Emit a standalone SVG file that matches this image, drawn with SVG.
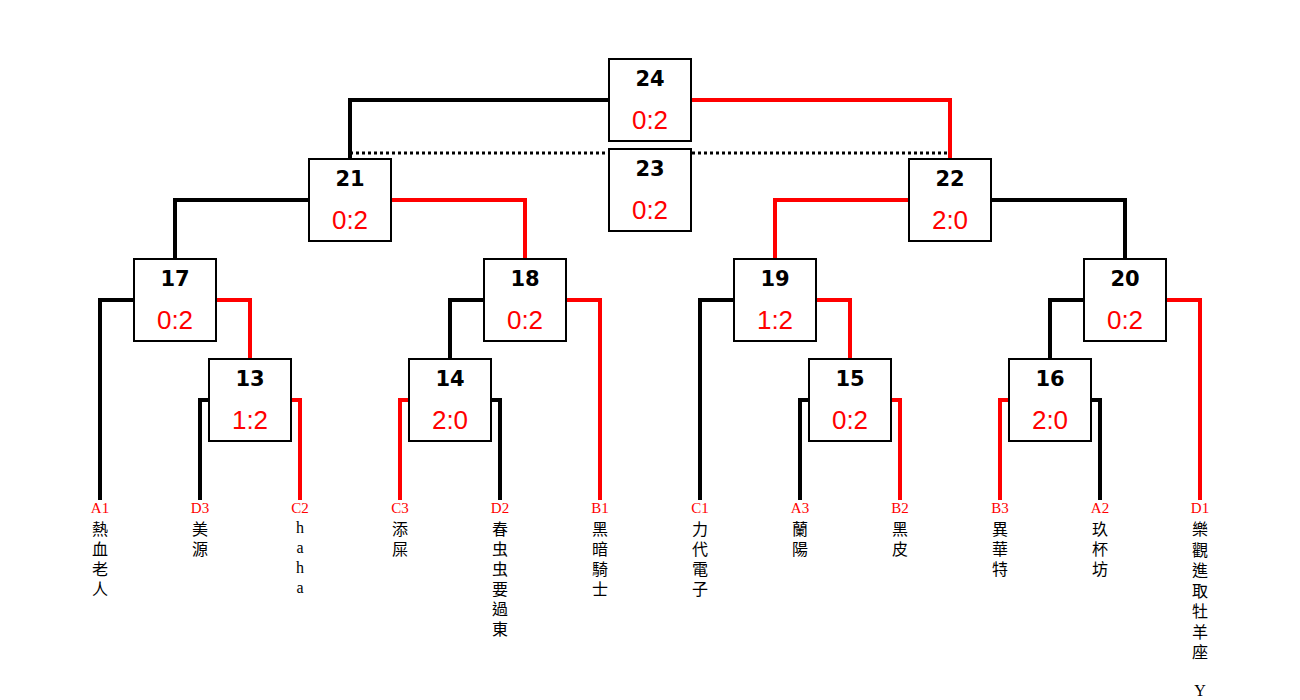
<svg xmlns="http://www.w3.org/2000/svg" width="1300" height="700" viewBox="0 0 1300 700">
<style>
.bg{fill:#fff}
.box{fill:#fff;stroke:#000;stroke-width:2}
.num{font-family:"DejaVu Sans",Verdana,sans-serif;font-weight:bold;font-size:21px;fill:#000;text-anchor:middle}
.score{font-family:"Liberation Sans",Arial,sans-serif;font-size:26px;fill:#f00;text-anchor:middle}
.k{fill:none;stroke:#000;stroke-width:4}
.r{fill:none;stroke:#f00;stroke-width:4}
.dot{fill:none;stroke:#000;stroke-width:3;stroke-dasharray:3 3}
.code{font-family:"Liberation Serif","Times New Roman",serif;font-size:15px;fill:#f00;text-anchor:middle}
.name{font-family:"Liberation Serif","Noto Sans CJK TC",serif;font-size:16px;fill:#000;text-anchor:middle}
</style>
<rect class="bg" x="0" y="0" width="1300" height="700"/>
<g id="connectors">
<path class="dot" d="M350,153 H950"/>
<path class="k" d="M609,100 H350 V159"/>
<path class="r" d="M691,100 H950 V159"/>
<path class="k" d="M309,200 H175 V259"/>
<path class="r" d="M391,200 H525 V259"/>
<path class="r" d="M909,200 H775 V259"/>
<path class="k" d="M991,200 H1125 V259"/>
<path class="k" d="M134,300 H100 V500"/>
<path class="r" d="M216,300 H250 V359"/>
<path class="k" d="M209,400 H200 V500"/>
<path class="r" d="M291,400 H300 V500"/>
<path class="k" d="M484,300 H450 V359"/>
<path class="r" d="M566,300 H600 V500"/>
<path class="r" d="M409,400 H400 V500"/>
<path class="k" d="M491,400 H500 V500"/>
<path class="k" d="M734,300 H700 V500"/>
<path class="r" d="M816,300 H850 V359"/>
<path class="k" d="M809,400 H800 V500"/>
<path class="r" d="M891,400 H900 V500"/>
<path class="k" d="M1084,300 H1050 V359"/>
<path class="r" d="M1166,300 H1200 V500"/>
<path class="r" d="M1009,400 H1000 V500"/>
<path class="k" d="M1091,400 H1100 V500"/>
</g>
<g id="m24"><rect class="box" x="609" y="59" width="82" height="82"/><text class="num" x="650" y="86">24</text><text class="score" x="650" y="129">0:2</text></g>
<g id="m23"><rect class="box" x="609" y="149" width="82" height="82"/><text class="num" x="650" y="176">23</text><text class="score" x="650" y="219">0:2</text></g>
<g id="m21"><rect class="box" x="309" y="159" width="82" height="82"/><text class="num" x="350" y="186">21</text><text class="score" x="350" y="229">0:2</text></g>
<g id="m22"><rect class="box" x="909" y="159" width="82" height="82"/><text class="num" x="950" y="186">22</text><text class="score" x="950" y="229">2:0</text></g>
<g id="m17"><rect class="box" x="134" y="259" width="82" height="82"/><text class="num" x="175" y="286">17</text><text class="score" x="175" y="329">0:2</text></g>
<g id="m18"><rect class="box" x="484" y="259" width="82" height="82"/><text class="num" x="525" y="286">18</text><text class="score" x="525" y="329">0:2</text></g>
<g id="m19"><rect class="box" x="734" y="259" width="82" height="82"/><text class="num" x="775" y="286">19</text><text class="score" x="775" y="329">1:2</text></g>
<g id="m20"><rect class="box" x="1084" y="259" width="82" height="82"/><text class="num" x="1125" y="286">20</text><text class="score" x="1125" y="329">0:2</text></g>
<g id="m13"><rect class="box" x="209" y="359" width="82" height="82"/><text class="num" x="250" y="386">13</text><text class="score" x="250" y="429">1:2</text></g>
<g id="m14"><rect class="box" x="409" y="359" width="82" height="82"/><text class="num" x="450" y="386">14</text><text class="score" x="450" y="429">2:0</text></g>
<g id="m15"><rect class="box" x="809" y="359" width="82" height="82"/><text class="num" x="850" y="386">15</text><text class="score" x="850" y="429">0:2</text></g>
<g id="m16"><rect class="box" x="1009" y="359" width="82" height="82"/><text class="num" x="1050" y="386">16</text><text class="score" x="1050" y="429">2:0</text></g>
<g id="tA1"><text class="code" x="100" y="513">A1</text><text class="name"><tspan x="100" y="535">熱</tspan><tspan x="100" dy="20">血</tspan><tspan x="100" dy="20">老</tspan><tspan x="100" dy="20">人</tspan></text></g>
<g id="tD3"><text class="code" x="200" y="513">D3</text><text class="name"><tspan x="200" y="535">美</tspan><tspan x="200" dy="20">源</tspan></text></g>
<g id="tC2"><text class="code" x="300" y="513">C2</text><text class="name"><tspan x="300" y="533">h</tspan><tspan x="300" dy="20">a</tspan><tspan x="300" dy="20">h</tspan><tspan x="300" dy="20">a</tspan></text></g>
<g id="tC3"><text class="code" x="400" y="513">C3</text><text class="name"><tspan x="400" y="535">添</tspan><tspan x="400" dy="20">屎</tspan></text></g>
<g id="tD2"><text class="code" x="500" y="513">D2</text><text class="name"><tspan x="500" y="535">春</tspan><tspan x="500" dy="20">虫</tspan><tspan x="500" dy="20">虫</tspan><tspan x="500" dy="20">要</tspan><tspan x="500" dy="20">過</tspan><tspan x="500" dy="20">東</tspan></text></g>
<g id="tB1"><text class="code" x="600" y="513">B1</text><text class="name"><tspan x="600" y="535">黑</tspan><tspan x="600" dy="20">暗</tspan><tspan x="600" dy="20">騎</tspan><tspan x="600" dy="20">士</tspan></text></g>
<g id="tC1"><text class="code" x="700" y="513">C1</text><text class="name"><tspan x="700" y="535">力</tspan><tspan x="700" dy="20">代</tspan><tspan x="700" dy="20">電</tspan><tspan x="700" dy="20">子</tspan></text></g>
<g id="tA3"><text class="code" x="800" y="513">A3</text><text class="name"><tspan x="800" y="535">蘭</tspan><tspan x="800" dy="20">陽</tspan></text></g>
<g id="tB2"><text class="code" x="900" y="513">B2</text><text class="name"><tspan x="900" y="535">黑</tspan><tspan x="900" dy="20">皮</tspan></text></g>
<g id="tB3"><text class="code" x="1000" y="513">B3</text><text class="name"><tspan x="1000" y="535">異</tspan><tspan x="1000" dy="20">華</tspan><tspan x="1000" dy="20">特</tspan></text></g>
<g id="tA2"><text class="code" x="1100" y="513">A2</text><text class="name"><tspan x="1100" y="535">玖</tspan><tspan x="1100" dy="20">杯</tspan><tspan x="1100" dy="20">坊</tspan></text></g>
<g id="tD1"><text class="code" x="1200" y="513">D1</text><text class="name"><tspan x="1200" y="535">樂</tspan><tspan x="1200" dy="20.5">觀</tspan><tspan x="1200" dy="20.5">進</tspan><tspan x="1200" dy="20.5">取</tspan><tspan x="1200" dy="20.5">牡</tspan><tspan x="1200" dy="20.5">羊</tspan><tspan x="1200" dy="20.5">座</tspan><tspan x="1200" dy="38">Y</tspan></text></g>
</svg>
